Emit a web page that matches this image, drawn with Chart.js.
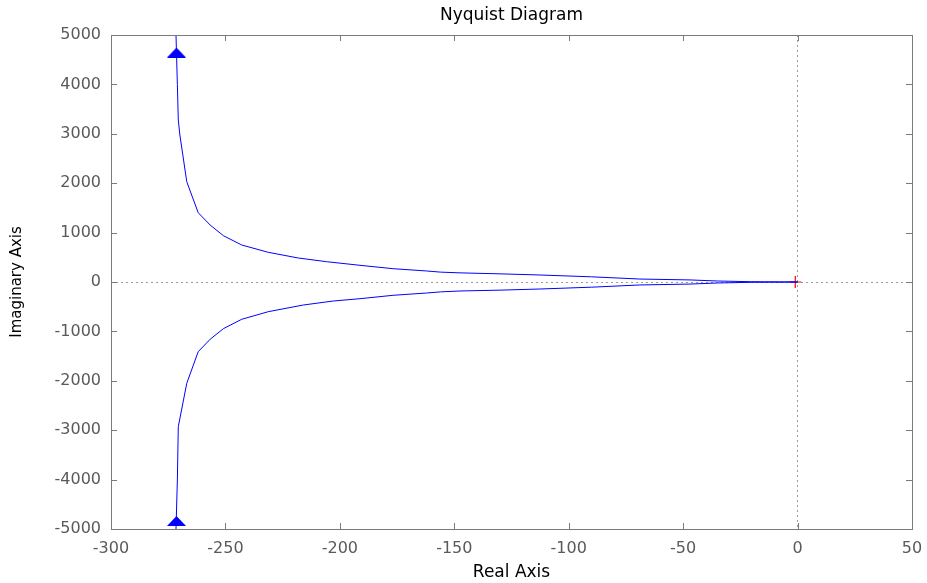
<!DOCTYPE html>
<html>
<head>
<meta charset="utf-8">
<script src="https://cdn.jsdelivr.net/npm/chart.js@4/dist/chart.umd.min.js"></script>
<style>
  body { margin: 0; background: #fff; }
  #wrap { width: 927px; height: 583px; }
</style>
</head>
<body>
<div id="wrap"><canvas id="nyquist" width="927" height="583"></canvas></div>
<script>
// upper branch (positive frequencies)
const upperRe = [-271.6, -271.0, -270.6, -269.9, -266.9, -261.9, -256.7, -250.9, -242.9, -231.3, -218.2, -205.8, -191.2, -176.7, -162.1, -156, -147.5, -130, -112.6, -90, -68.9, -47, -35, -20, 0];
const upperIm = [5000, 4000, 3280, 2976, 2030, 1403, 1154, 938, 749, 601, 486, 411, 338, 269, 223, 200, 185, 165, 142, 105, 60, 42, 20, 6, 0];

// lower branch (negative frequencies)
const lowerRe = [0, -20, -35, -47, -68.9, -90, -112.6, -130, -147.5, -156, -162.1, -176.7, -191.2, -202.9, -216, -231.3, -242.9, -250.9, -256.7, -261.9, -266.9, -270.6, -271.0, -271.6];
const lowerIm = [0, -6, -20, -42, -60, -105, -142, -165, -182, -200, -223, -269, -338, -385, -466, -601, -755, -945, -1160, -1411, -2051, -2929, -4008, -5000];

// direction arrows and the critical point
const arrowRe = [-271.4, -271.4];
const arrowIm = [4645, -4838];
const critRe = [-1];
const critIm = [0];

// tick labels
const xTicks = [-300, -250, -200, -150, -100, -50, 0, 50];
const yTicks = [-5000, -4000, -3000, -2000, -1000, 0, 1000, 2000, 3000, 4000, 5000];

function pts(xs, ys) {
    return xs.map((x, i) => ({ x: x, y: ys[i] }));
}

// flat triangle marker like matlab's arrow heads
function makeArrow() {
    const c = document.createElement("canvas");
    c.width = 19;
    c.height = 10;
    const g = c.getContext("2d");
    g.fillStyle = "#0000ff";
    g.beginPath();
    g.moveTo(9.5, 0);
    g.lineTo(19, 10);
    g.lineTo(0, 10);
    g.closePath();
    g.fill();
    return c;
}

// box around the axes with inward ticks on all four sides
const boxPlugin = {
    id: "box",
    afterDatasetsDraw(chart) {
        const { ctx, chartArea: a, scales } = chart;
        const tl = 6;
        ctx.save();
        ctx.strokeStyle = "#7a7a7a";
        ctx.lineWidth = 1;
        ctx.beginPath();
        scales.x.ticks.forEach(t => {
            const px = Math.round(scales.x.getPixelForValue(t.value)) + 0.5;
            ctx.moveTo(px, a.bottom);
            ctx.lineTo(px, a.bottom - tl);
            ctx.moveTo(px, a.top);
            ctx.lineTo(px, a.top + tl);
        });
        scales.y.ticks.forEach(t => {
            const py = Math.round(scales.y.getPixelForValue(t.value)) + 0.5;
            ctx.moveTo(a.left, py);
            ctx.lineTo(a.left + tl, py);
            ctx.moveTo(a.right, py);
            ctx.lineTo(a.right - tl, py);
        });
        ctx.stroke();
        ctx.strokeRect(Math.round(a.left) + 0.5, Math.round(a.top) + 0.5,
            Math.round(a.right - a.left), Math.round(a.bottom - a.top));
        ctx.restore();
    }
};

const zeroLine = c => (c.tick && c.tick.value === 0) ? "#9a9a9a" : "rgba(0,0,0,0)";
const plain = v => String(v);

new Chart(document.getElementById("nyquist"), {
    type: "scatter",
    data: {
        datasets: [
            {
                label: "critical point",
                data: pts(critRe, critIm),
                pointStyle: "cross",
                pointRadius: 6,
                borderColor: "#ff0000",
                backgroundColor: "#ff0000",
                pointBorderWidth: 1.2,
                order: 3
            },
            {
                label: "upper",
                data: pts(upperRe, upperIm),
                showLine: true,
                borderColor: "#0000ff",
                borderWidth: 1,
                pointRadius: 0,
                order: 1
            },
            {
                label: "lower",
                data: pts(lowerRe, lowerIm),
                showLine: true,
                borderColor: "#0000ff",
                borderWidth: 1,
                pointRadius: 0,
                order: 1
            },
            {
                label: "arrows",
                data: pts(arrowRe, arrowIm),
                pointStyle: makeArrow(),
                pointRadius: 8,
                order: 0
            }
        ]
    },
    options: {
        responsive: false,
        animation: false,
        layout: { padding: 0 },
        plugins: {
            legend: { display: false },
            tooltip: { enabled: false }
        },
        scales: {
            // top axis only carries the title, centred over the plot box
            top: {
                type: "linear",
                position: "top",
                min: -300,
                max: 50,
                afterFit: s => { s.height = 35; },
                border: { display: false },
                grid: { display: false },
                ticks: { display: false },
                title: {
                    display: true,
                    text: "Nyquist Diagram",
                    color: "#000",
                    font: { family: "DejaVu Sans", size: 17 },
                    padding: { top: 5, bottom: 0 }
                }
            },
            // empty right axis just reserves the margin right of the box
            right: {
                type: "linear",
                position: "right",
                min: -5000,
                max: 5000,
                afterFit: s => { s.width = 15; },
                border: { display: false },
                grid: { display: false },
                ticks: { display: false }
            },
            x: {
                type: "linear",
                min: -300,
                max: 50,
                afterBuildTicks: s => { s.ticks = xTicks.map(v => ({ value: v })); },
                afterFit: s => { s.height = 54; },
                border: { display: false, dash: [2, 3] },
                grid: { color: zeroLine, drawTicks: true, tickLength: 10, tickColor: "rgba(0,0,0,0)", lineWidth: 1 },
                ticks: {
                    color: "#5a5a5a",
                    padding: 0,
                    maxRotation: 0,
                    callback: plain,
                    font: { family: "DejaVu Sans", size: 16 }
                },
                title: {
                    display: true,
                    text: "Real Axis",
                    color: "#000",
                    font: { family: "DejaVu Sans", size: 17 },
                    padding: { top: 0, bottom: 0 }
                }
            },
            y: {
                type: "linear",
                min: -5000,
                max: 5000,
                afterBuildTicks: s => { s.ticks = yTicks.map(v => ({ value: v })); },
                afterFit: s => { s.width = 111; },
                border: { display: false, dash: [2, 3] },
                grid: { color: zeroLine, drawTicks: false, lineWidth: 1 },
                ticks: {
                    color: "#5a5a5a",
                    padding: 10,
                    callback: plain,
                    font: { family: "DejaVu Sans", size: 16 }
                },
                title: {
                    display: true,
                    text: "Imaginary Axis",
                    color: "#000",
                    font: { family: "DejaVu Sans", size: 15 },
                    padding: { top: 8, bottom: 0 }
                }
            }
        }
    },
    plugins: [boxPlugin]
});
</script>
</body>
</html>
